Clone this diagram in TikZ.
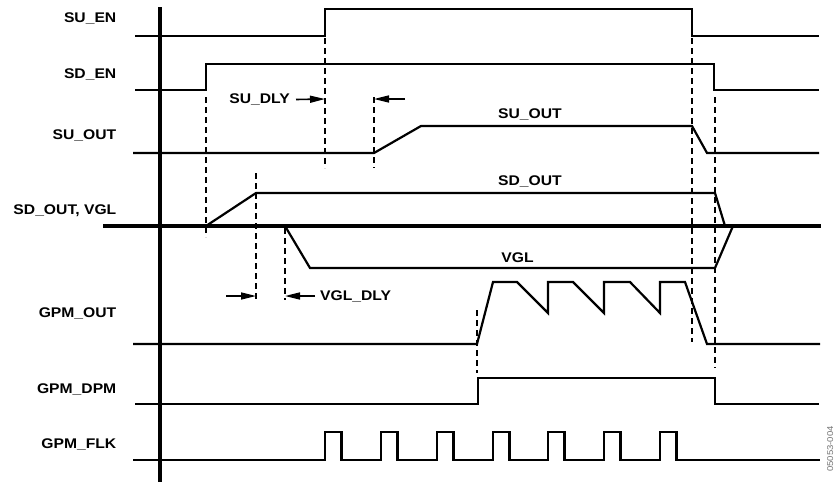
\documentclass[tikz,border=0pt]{standalone}
\usepackage{fontspec}
\setmainfont{Liberation Sans}[FakeStretch=1.12]
\usetikzlibrary{arrows.meta}
\begin{document}
\begin{tikzpicture}[x=1pt,y=-1pt,
  sig/.style={line width=2.2pt, line join=miter},
  axisline/.style={line width=3.8pt},
  guide/.style={line width=1.1pt, dash pattern=on 6pt off 4pt},
  lbl/.style={font=\fontsize{14}{16}\selectfont\bfseries, inner sep=0pt},
  dly/.style={line width=1.6pt, -{Triangle[length=15pt,width=7pt]}}]
\useasboundingbox (0,0) rectangle (837,482);

% left labels
\node[lbl, anchor=base east] (lsuen)  at (116.5,22) {SU\_EN};
\node[lbl, anchor=base east] (lsden)  at (116.5,78.5) {SD\_EN};
\node[lbl, anchor=base east] (lsuout) at (116.5,139.5) {SU\_OUT};
\node[lbl, anchor=base east] (lsdout) at (116.5,214.5) {SD\_OUT, VGL};
\node[lbl, anchor=base east] (lgout)  at (116.5,317.5) {GPM\_OUT};
\node[lbl, anchor=base east] (lgdpm)  at (116.5,393.5) {GPM\_DPM};
\node[lbl, anchor=base east] (lgflk)  at (116.5,448.5) {GPM\_FLK};

% inner labels
\node[lbl, anchor=base] (isuout) at (530,118) {SU\_OUT};
\node[lbl, anchor=base] (isdout) at (530,185) {SD\_OUT};
\node[lbl, anchor=base] (ivgl)   at (517.5,262.5) {VGL};

% vertical axis
\draw[axisline] (160,7) -- (160,482);
% horizontal axis SD_OUT / VGL
\draw[axisline] (103,226) -- (821,226);

% dashed guides
\draw[guide] (206,97) -- (206,237);
\draw[guide] (256,173) -- (256,300);
\draw[guide] (285,228) -- (285,300);
\draw[guide] (325,38) -- (325,168);
\draw[guide] (374,97) -- (374,168);
\draw[guide] (477,310) -- (477,373);
\draw[guide] (692,38) -- (692,342);
\draw[guide] (715,97) -- (715,368);

% signals
\draw[sig] (135,36) -- (325,36) -- (325,9) -- (692,9) -- (692,36) -- (819,36);
\draw[sig] (135,90) -- (206,90) -- (206,64) -- (714,64) -- (714,90) -- (819,90);
\draw[sig] (133,153) -- (374,153) -- (421,126) -- (692,126) -- (707,153) -- (819,153);
\draw[sig] (206,226) -- (256,193) -- (715,193) -- (725,226);
\draw[sig] (285,226) -- (310,268) -- (715,268) -- (733,226);
\draw[sig] (133,344) -- (477,344) -- (493,282) -- (517,282) -- (548,313) -- (548,282)
  -- (573,282) -- (604,313) -- (604,282) -- (630,282) -- (660,313) -- (660,282)
  -- (685,282) -- (707,344) -- (820,344);
\draw[sig] (135,404) -- (478,404) -- (478,378) -- (715,378) -- (715,404) -- (819,404);
\draw[sig] (133,460) foreach \x in {325,381,437,493,548,604,660}
  { -- (\x,460) -- (\x,432) -- ({\x+16.5},432) -- ({\x+16.5},460) } -- (820,460);

% delay annotations
\node[lbl, anchor=east] (tsudly) at (290,99.5) {SU\_DLY};
\coordinate (sua) at (325,99);
\coordinate (sub) at (405,99);
\coordinate (suc) at (374,99);
\draw[dly] (tsudly.east) ++(6,0) coordinate (sustart) -- (sua);
\draw[dly] (sub) -- (suc);

\node[lbl, anchor=west] (tvgldly) at (320,296) {VGL\_DLY};
\coordinate (vga) at (226,296);
\coordinate (vgb) at (256,296);
\coordinate (vgc) at (285,296);
\draw[dly] (vga) -- (vgb);
\draw[dly] (tvgldly.west) ++(-5,0) -- (vgc);

% figure code
\node[font=\fontsize{8.5}{9}\selectfont, text=black!55, rotate=90, anchor=north east, inner sep=0pt] (code) at (827,426) {05053-004};
\end{tikzpicture}
\end{document}
